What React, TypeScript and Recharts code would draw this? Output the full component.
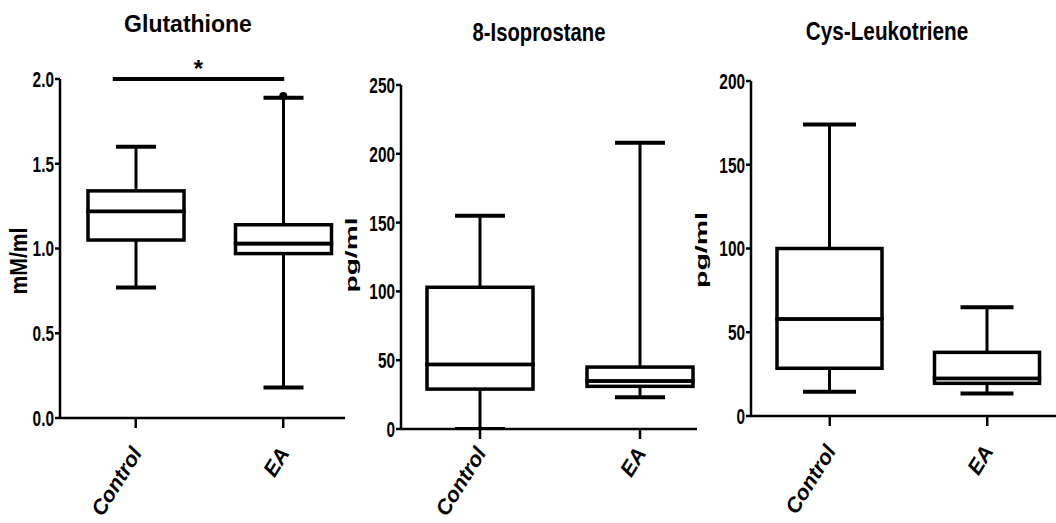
import React from 'react';
import { ComposedChart, Bar, Scatter, XAxis, YAxis, ReferenceLine } from 'recharts';

const groups = ['Control', 'EA'];

// Glutathione, mM/ml
const gshMin = [0.77, 0.18];
const gshQ1 = [1.05, 0.97];
const gshMedian = [1.22, 1.03];
const gshQ3 = [1.34, 1.14];
const gshMax = [1.6, 1.89];
const gshOutlier = [null, 1.9];
const gshTicks = [0, 0.5, 1, 1.5, 2];

// 8-Isoprostane, pg/ml
const isoMin = [0, 23];
const isoQ1 = [29, 31];
const isoMedian = [47, 35];
const isoQ3 = [103, 45];
const isoMax = [155, 208];
const isoTicks = [0, 50, 100, 150, 200, 250];

// Cys-Leukotriene, pg/ml
const ltMin = [14.5, 13.5];
const ltQ1 = [28.5, 19.5];
const ltMedian = [58, 22.5];
const ltQ3 = [100, 38];
const ltMax = [174, 65];
const ltTicks = [0, 50, 100, 150, 200];

const SANS = "'Liberation Sans', Arial, sans-serif";
const INK = '#000';

const toRows = (min: number[], q1: number[], med: number[], q3: number[], max: number[], out?: (number | null)[]) =>
  groups.map((name, i) => ({
    name,
    base: min[i],
    lowWhisker: q1[i] - min[i],
    lowBox: med[i] - q1[i],
    highBox: q3[i] - med[i],
    highWhisker: max[i] - q3[i],
    outlier: out ? out[i] : null,
  }));

const makeWhisker = (capSize: number, top: boolean) => (props: any) => {
  const { x, y, width, height } = props;
  const cx = x + width / 2;
  const capY = top ? y : y + height;
  return (
    <g>
      <line x1={cx} x2={cx} y1={y} y2={y + height} stroke={INK} strokeWidth={3} />
      <line x1={cx - capSize / 2} x2={cx + capSize / 2} y1={capY} y2={capY} stroke={INK} strokeWidth={4} />
    </g>
  );
};

const makeBox = (isLower: boolean) => (props: any) => {
  const { x, y, width, height } = props;
  return (
    <g>
      <rect x={x} y={y} width={width} height={height} fill="#fff" stroke={INK} strokeWidth={3.5} />
      {isLower && <line x1={x} x2={x + width} y1={y} y2={y} stroke={INK} strokeWidth={4} />}
    </g>
  );
};

const makeGroupTick = (drop: number) => (props: any) => {
  const { x, y, payload } = props;
  const ax = x + 7;
  const ay = y + drop;
  return (
    <text
      transform={`translate(${ax}, ${ay}) rotate(-58) scale(1.02, 1)`}
      x={0}
      y={0}
      textAnchor="end"
      fontFamily={SANS}
      fontStyle="italic"
      fontWeight="bold"
      fontSize={21}
      fill={INK}
    >
      {payload.value}
    </text>
  );
};

const makeValueTick = (fmt?: (v: number) => string) => (props: any) => {
  const { x, y, payload } = props;
  return (
    <text
      transform={`translate(${x}, ${y}) scale(0.7, 1)`}
      x={0}
      y={0}
      dy="0.36em"
      textAnchor="end"
      fontFamily={SANS}
      fontWeight="bold"
      fontSize={22}
      fill={INK}
    >
      {fmt ? fmt(payload.value) : payload.value}
    </text>
  );
};

type PanelProps = {
  left: number;
  width: number;
  axisX: number;
  plotTop: number;
  plotBottom: number;
  plotRight: number;
  padL: number;
  padR: number;
  rows: any[];
  domain: [number, number];
  ticks: number[];
  fmt?: (v: number) => string;
  boxSize: number;
  capSize: number;
  labelDrop: number;
  unit: string;
  unitX: number;
  unitY: number;
  unitSize: number;
  unitStretch: number;
  title: string;
  titleX: number;
  titleBase: number;
  titleSize: number;
  titleStretch: number;
  sig?: boolean;
};

const Panel = (p: PanelProps) => {
  const height = 523;
  const ux = p.unitX - p.left;
  return (
    <>
      <div
        style={{
          position: 'absolute',
          left: p.titleX - 120,
          top: p.titleBase - 0.85 * p.titleSize,
          width: 240,
          textAlign: 'center',
          fontFamily: SANS,
          fontWeight: 'bold',
          fontSize: p.titleSize,
          lineHeight: `${p.titleSize}px`,
          color: INK,
          transform: `scaleX(${p.titleStretch})`,
          whiteSpace: 'nowrap',
        }}
      >
        {p.title}
      </div>
      <ComposedChart
        width={p.width}
        height={height}
        data={p.rows}
        margin={{ top: p.plotTop, right: p.left + p.width - p.plotRight, bottom: 0, left: 0 }}
        style={{ position: 'absolute', left: p.left, top: 0 }}
      >
        <XAxis
          dataKey="name"
          height={height - p.plotBottom}
          padding={{ left: p.padL, right: p.padR }}
          axisLine={{ stroke: INK, strokeWidth: 2.5 }}
          tickLine={{ stroke: INK, strokeWidth: 2.5 }}
          tickSize={10}
          tick={makeGroupTick(p.labelDrop)}
          interval={0}
        />
        <YAxis
          width={p.axisX - p.left}
          domain={p.domain}
          ticks={p.ticks}
          allowDataOverflow
          axisLine={{ stroke: INK, strokeWidth: 2.5 }}
          tickLine={{ stroke: INK, strokeWidth: 2.5 }}
          tickSize={5}
          tickMargin={1}
          tick={makeValueTick(p.fmt)}
          label={{
            content: () => (
              <text
                transform={`translate(${ux}, ${p.unitY}) rotate(-90) scale(${p.unitStretch}, 1)`}
                x={0}
                y={0}
                textAnchor="middle"
                fontFamily={SANS}
                fontWeight="bold"
                fontSize={p.unitSize}
                fill={INK}
              >
                {p.unit}
              </text>
            ),
          }}
        />
        <Bar dataKey="base" stackId="box" fill="none" barSize={p.boxSize} isAnimationActive={false} />
        <Bar dataKey="lowWhisker" stackId="box" barSize={p.boxSize} shape={makeWhisker(p.capSize, false)} isAnimationActive={false} />
        <Bar dataKey="lowBox" stackId="box" barSize={p.boxSize} shape={makeBox(true)} isAnimationActive={false} />
        <Bar dataKey="highBox" stackId="box" barSize={p.boxSize} shape={makeBox(false)} isAnimationActive={false} />
        <Bar dataKey="highWhisker" stackId="box" barSize={p.boxSize} shape={makeWhisker(p.capSize, true)} isAnimationActive={false} />
        <Scatter
          dataKey="outlier"
          fill={INK}
          shape={(s: any) => (s.cy == null ? <g /> : <circle cx={s.cx} cy={s.cy} r={4} fill={INK} />)}
          isAnimationActive={false}
        />
        {p.sig && (
          <ReferenceLine
            segment={[
              { x: 'Control', y: p.domain[1] },
              { x: 'EA', y: p.domain[1] },
            ]}
            ifOverflow="visible"
            shape={(s: any) => {
              const x1 = s.x1 - 23;
              const x2 = s.x2 + 1;
              return (
                <g>
                  <line x1={x1} x2={x2} y1={s.y1} y2={s.y2} stroke={INK} strokeWidth={4} />
                  <text x={(x1 + x2) / 2} y={s.y1 - 2} textAnchor="middle" fontFamily={SANS} fontWeight="bold" fontSize={24} fill={INK}>
                    *
                  </text>
                </g>
              );
            }}
          />
        )}
      </ComposedChart>
    </>
  );
};

export default function App() {
  return (
    <div style={{ position: 'fixed', left: 0, top: 0, width: 1056, height: 523, background: '#fff', overflow: 'hidden' }}>
      <Panel
        left={0}
        width={352}
        axisX={60}
        plotTop={79}
        plotBottom={418}
        plotRight={345}
        padL={2}
        padR={-12}
        rows={toRows(gshMin, gshQ1, gshMedian, gshQ3, gshMax, gshOutlier)}
        domain={[0, 2]}
        ticks={gshTicks}
        fmt={(v: number) => v.toFixed(1)}
        boxSize={96}
        capSize={40}
        labelDrop={23}
        unit="mM/ml"
        unitX={27}
        unitY={261}
        unitSize={23}
        unitStretch={0.92}
        title="Glutathione"
        titleX={188}
        titleBase={33}
        titleSize={23}
        titleStretch={1}
        sig
      />
      <Panel
        left={330}
        width={372}
        axisX={401}
        plotTop={85}
        plotBottom={429}
        plotRight={697}
        padL={-1}
        padR={-23}
        rows={toRows(isoMin, isoQ1, isoMedian, isoQ3, isoMax)}
        domain={[0, 250]}
        ticks={isoTicks}
        boxSize={106}
        capSize={50}
        labelDrop={12}
        unit="pg/ml"
        unitX={356.5}
        unitY={255}
        unitSize={16}
        unitStretch={1.76}
        title="8-Isoprostane"
        titleX={539}
        titleBase={41}
        titleSize={25}
        titleStretch={0.81}
      />
      <Panel
        left={684}
        width={372}
        axisX={751}
        plotTop={81}
        plotBottom={416}
        plotRight={1056}
        padL={0}
        padR={-10}
        rows={toRows(ltMin, ltQ1, ltMedian, ltQ3, ltMax)}
        domain={[0, 200]}
        ticks={ltTicks}
        boxSize={105}
        capSize={53}
        labelDrop={23}
        unit="pg/ml"
        unitX={706.5}
        unitY={250}
        unitSize={16}
        unitStretch={1.78}
        title="Cys-Leukotriene"
        titleX={887}
        titleBase={40}
        titleSize={25}
        titleStretch={0.83}
      />
    </div>
  );
}
